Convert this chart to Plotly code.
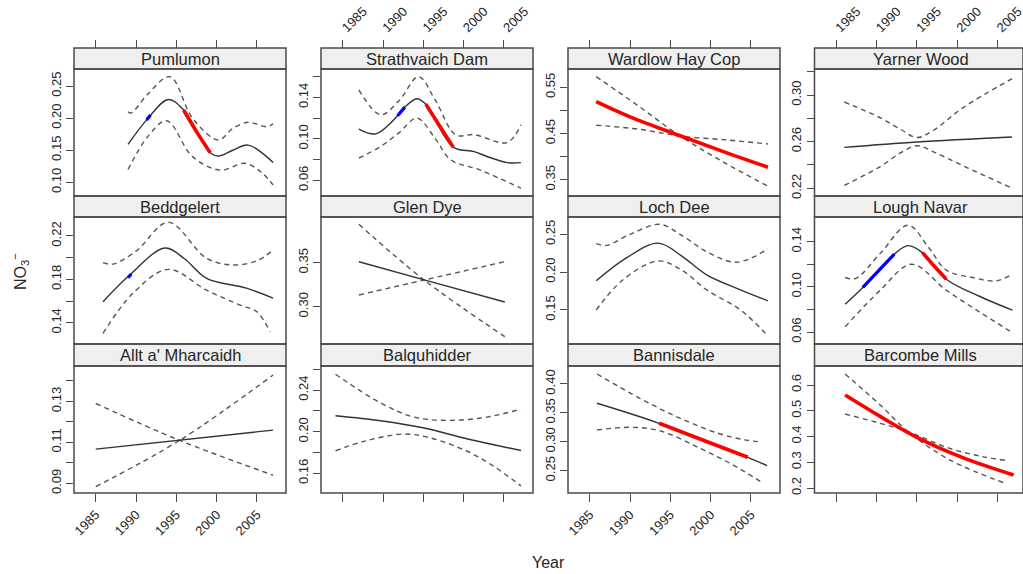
import plotly.graph_objects as go

# ---------------- data ----------------
sites = ["Pumlumon", "Strathvaich Dam", "Wardlow Hay Cop", "Yarner Wood",
         "Beddgelert", "Glen Dye", "Loch Dee", "Lough Navar",
         "Allt a' Mharcaidh", "Balquhidder", "Bannisdale", "Barcombe Mills"]
year_ticks = [1985, 1990, 1995, 2000, 2005]
year_labels = ["1985", "1990", "1995", "2000", "2005"]

# Pumlumon
pum_fit_year = [1989.0, 1991.5, 1994.0, 1995.9, 1999.2, 2000.2, 2002.0, 2003.9, 2007.0]
pum_fit_no3 = [0.159, 0.200, 0.229, 0.2126, 0.146, 0.141, 0.150, 0.158, 0.131]
pum_up_year = [1989.0, 1989.4, 1991.5, 1994.2, 1997.0, 2000.2, 2002.0, 2003.9, 2006.2, 2007.0]
pum_up_no3 = [0.210, 0.208, 0.238, 0.2645, 0.200, 0.166, 0.184, 0.1935, 0.1866, 0.191]
pum_lo_year = [1989.0, 1991.5, 1993.8, 1997.0, 2000.4, 2003.5, 2005.5, 2007.0]
pum_lo_no3 = [0.120, 0.172, 0.196, 0.140, 0.119, 0.1296, 0.116, 0.096]
pum_red_year = [1995.9, 1997.5, 1999.2]
pum_red_no3 = [0.2126, 0.179, 0.146]
pum_blue_year = [1991.3, 1991.8]
pum_blue_no3 = [0.197, 0.205]
pum_yticks = [0.10, 0.15, 0.20, 0.25]
pum_ylabels = ["0.10", "0.15", "0.20", "0.25"]

# Strathvaich Dam
str_fit_year = [1987.0, 1989.1, 1991.8, 1992.7, 1994.2, 1995.3, 1998.7, 2001.3, 2002.9, 2005.4, 2007.1]
str_fit_no3 = [0.1094, 0.1048, 0.1222, 0.1306, 0.1387, 0.1335, 0.092, 0.0877, 0.0829, 0.077, 0.077]
str_up_year = [1987.0, 1989.7, 1992.0, 1994.4, 1996.5, 1999.0, 2001.3, 2005.4, 2007.1]
str_up_no3 = [0.1473, 0.1232, 0.137, 0.160, 0.137, 0.1039, 0.104, 0.0964, 0.1135]
str_lo_year = [1987.0, 1989.7, 1992.0, 1994.2, 1996.5, 1998.4, 2002.0, 2007.1]
str_lo_no3 = [0.0814, 0.0926, 0.106, 0.120, 0.100, 0.0797, 0.070, 0.0523]
str_red_year = [1995.3, 1997.0, 1998.7]
str_red_no3 = [0.1335, 0.1126, 0.092]
str_blue_year = [1991.8, 1992.7]
str_blue_no3 = [0.1222, 0.1306]
str_yticks = [0.06, 0.08, 0.10, 0.12, 0.14, 0.16]
str_ylabels = ["0.06", "", "0.10", "", "0.14", ""]

# Wardlow Hay Cop
war_fit_year = [1985.8, 1990.0, 1996.2, 2002.0, 2007.1]
war_fit_no3 = [0.519, 0.486, 0.445, 0.408, 0.377]
war_b1_year = [1985.8, 1991.0, 1996.0, 2001.5, 2007.1]
war_b1_no3 = [0.573, 0.510, 0.447, 0.389, 0.336]
war_b2_year = [1985.8, 1991.2, 1996.2, 2002.0, 2007.1]
war_b2_no3 = [0.468, 0.459, 0.4446, 0.436, 0.4273]
war_yticks = [0.35, 0.40, 0.45, 0.50, 0.55]
war_ylabels = ["0.35", "", "0.45", "", "0.55"]

# Yarner Wood
yar_fit_year = [1986.0, 1995.0, 2006.8]
yar_fit_no3 = [0.2551, 0.2597, 0.264]
yar_up_year = [1986.0, 1990.5, 1993.0, 1995.0, 1997.0, 2000.7, 2006.8]
yar_up_no3 = [0.294, 0.2803, 0.2705, 0.2635, 0.2695, 0.289, 0.314]
yar_lo_year = [1986.0, 1990.5, 1993.0, 1995.0, 1997.0, 2000.7, 2006.8]
yar_lo_no3 = [0.2225, 0.2388, 0.2505, 0.2565, 0.2515, 0.2394, 0.2202]
yar_yticks = [0.22, 0.24, 0.26, 0.28, 0.30, 0.32]
yar_ylabels = ["0.22", "", "0.26", "", "0.30", ""]

# Beddgelert
bed_fit_year = [1985.9, 1989.2, 1993.6, 1996.0, 1998.75, 2003.7, 2007.0]
bed_fit_no3 = [0.1594, 0.184, 0.2089, 0.199, 0.181, 0.1719, 0.1627]
bed_up_year = [1985.9, 1987.1, 1990.0, 1994.0, 1998.75, 2002.0, 2005.0, 2007.0]
bed_up_no3 = [0.1954, 0.194, 0.206, 0.2326, 0.1994, 0.1933, 0.1972, 0.207]
bed_lo_year = [1985.9, 1989.6, 1994.0, 1998.75, 2002.9, 2005.0, 2006.6]
bed_lo_no3 = [0.1302, 0.1671, 0.1892, 0.170, 0.1563, 0.1501, 0.1317]
bed_blue_year = [1989.0, 1989.4]
bed_blue_no3 = [0.1815, 0.185]
bed_yticks = [0.14, 0.16, 0.18, 0.20, 0.22]
bed_ylabels = ["0.14", "", "0.18", "", "0.22"]

# Glen Dye
gle_fit_year = [1987.0, 1995.1, 2005.1]
gle_fit_no3 = [0.3511, 0.3305, 0.3053]
gle_b1_year = [1987.0, 1995.1, 2005.1]
gle_b1_no3 = [0.3936, 0.3303, 0.2659]
gle_b2_year = [1987.0, 1995.1, 2005.1]
gle_b2_no3 = [0.3133, 0.3303, 0.3511]
gle_yticks = [0.30, 0.35]
gle_ylabels = ["0.30", "0.35"]

# Loch Dee
loc_fit_year = [1985.8, 1989.5, 1993.5, 1996.5, 1999.5, 2003.7, 2007.1]
loc_fit_no3 = [0.1885, 0.2185, 0.2384, 0.2206, 0.1964, 0.1765, 0.162]
loc_up_year = [1985.8, 1987.1, 1990.0, 1993.7, 1996.5, 1999.5, 2003.2, 2007.1]
loc_up_no3 = [0.2376, 0.2354, 0.250, 0.2632, 0.248, 0.227, 0.2131, 0.2307]
loc_lo_year = [1985.8, 1989.1, 1993.5, 1996.5, 1999.5, 2003.7, 2007.1]
loc_lo_no3 = [0.150, 0.1897, 0.2148, 0.202, 0.1765, 0.150, 0.1156]
loc_yticks = [0.15, 0.20, 0.25]
loc_ylabels = ["0.15", "0.20", "0.25"]

# Lough Navar
lou_fit_year = [1986.1, 1988.3, 1992.2, 1993.9, 1995.7, 1998.65, 2002.75, 2006.85]
lou_fit_no3 = [0.0847, 0.0995, 0.129, 0.1365, 0.1303, 0.1068, 0.0917, 0.0794]
lou_up_year = [1986.1, 1987.4, 1990.5, 1993.9, 1996.5, 1998.65, 2001.9, 2004.8, 2006.85]
lou_up_no3 = [0.1083, 0.1074, 0.130, 0.1546, 0.1345, 0.1148, 0.1083, 0.1053, 0.1112]
lou_lo_year = [1986.1, 1990.45, 1994.35, 1998.65, 2002.75, 2006.85]
lou_lo_no3 = [0.0647, 0.097, 0.120, 0.097, 0.0779, 0.0594]
lou_blue_year = [1988.3, 1990.2, 1992.2]
lou_blue_no3 = [0.0995, 0.114, 0.129]
lou_red_year = [1995.7, 1997.2, 1998.65]
lou_red_no3 = [0.1303, 0.118, 0.1068]
lou_yticks = [0.06, 0.08, 0.10, 0.12, 0.14]
lou_ylabels = ["0.06", "", "0.10", "", "0.14"]

# Allt a' Mharcaidh
all_fit_year = [1985.0, 2007.0]
all_fit_no3 = [0.1067, 0.116]
all_b1_year = [1985.0, 1995.4, 2007.0]
all_b1_no3 = [0.129, 0.111, 0.094]
all_b2_year = [1985.0, 1995.4, 2007.0]
all_b2_no3 = [0.0884, 0.111, 0.1429]
all_yticks = [0.09, 0.10, 0.11, 0.12, 0.13, 0.14]
all_ylabels = ["0.09", "", "0.11", "", "0.13", ""]

# Balquhidder
bal_fit_year = [1984.1, 1989.7, 1995.1, 2000.5, 2007.1]
bal_fit_no3 = [0.2154, 0.2106, 0.2036, 0.193, 0.182]
bal_up_year = [1984.1, 1989.7, 1993.8, 1998.0, 2002.9, 2007.1]
bal_up_no3 = [0.2553, 0.2276, 0.2141, 0.2109, 0.2141, 0.2217]
bal_lo_year = [1984.1, 1987.6, 1992.6, 1995.9, 2000.5, 2003.8, 2007.1]
bal_lo_no3 = [0.1817, 0.1907, 0.1978, 0.194, 0.181, 0.1664, 0.148]
bal_yticks = [0.16, 0.18, 0.20, 0.22, 0.24, 0.26]
bal_ylabels = ["0.16", "", "0.20", "", "0.24", ""]

# Bannisdale
ban_fit_year = [1985.9, 1993.6, 2004.6, 2007.0]
ban_fit_no3 = [0.3666, 0.332, 0.2732, 0.2587]
ban_up_year = [1985.9, 1991.2, 1996.2, 2001.2, 2004.4, 2006.1]
ban_up_no3 = [0.4173, 0.3753, 0.3407, 0.3135, 0.3029, 0.300]
ban_lo_year = [1985.9, 1990.0, 1993.7, 1998.7, 2002.8, 2006.55]
ban_lo_no3 = [0.3204, 0.325, 0.319, 0.2886, 0.2597, 0.2281]
ban_red_year = [1993.6, 1999.0, 2004.6]
ban_red_no3 = [0.332, 0.303, 0.2732]
ban_yticks = [0.25, 0.30, 0.35, 0.40]
ban_ylabels = ["0.25", "0.30", "0.35", "0.40"]

# Barcombe Mills
bar_fit_year = [1986.1, 1990.45, 1995.0, 2000.7, 2007.0]
bar_fit_no3 = [0.5612, 0.478, 0.397, 0.318, 0.2505]
bar_b1_year = [1986.1, 1990.45, 1993.9, 1999.0, 2006.2]
bar_b1_no3 = [0.6427, 0.5223, 0.4194, 0.3103, 0.2155]
bar_b2_year = [1986.1, 1990.45, 1993.9, 1999.0, 2003.1, 2006.2]
bar_b2_no3 = [0.4874, 0.4512, 0.419, 0.3546, 0.3222, 0.3066]
bar_yticks = [0.2, 0.3, 0.4, 0.5, 0.6]
bar_ylabels = ["0.2", "0.3", "0.4", "0.5", "0.6"]

# ---------------- assemble panels ----------------
panels = [
    dict(fit=(pum_fit_year, pum_fit_no3), fit_color="dark",
         bands=[(pum_up_year, pum_up_no3), (pum_lo_year, pum_lo_no3)],
         hl=[("red", pum_red_year, pum_red_no3), ("blue", pum_blue_year, pum_blue_no3)],
         yt=pum_yticks, yl=pum_ylabels, yr=[0.0787, 0.2765]),
    dict(fit=(str_fit_year, str_fit_no3), fit_color="dark",
         bands=[(str_up_year, str_up_no3), (str_lo_year, str_lo_no3)],
         hl=[("red", str_red_year, str_red_no3), ("blue", str_blue_year, str_blue_no3)],
         yt=str_yticks, yl=str_ylabels, yr=[0.0448, 0.1674]),
    dict(fit=(war_fit_year, war_fit_no3), fit_color="red",
         bands=[(war_b1_year, war_b1_no3), (war_b2_year, war_b2_no3)],
         hl=[], yt=war_yticks, yl=war_ylabels, yr=[0.3147, 0.5896]),
    dict(fit=(yar_fit_year, yar_fit_no3), fit_color="dark",
         bands=[(yar_up_year, yar_up_no3), (yar_lo_year, yar_lo_no3)],
         hl=[], yt=yar_yticks, yl=yar_ylabels, yr=[0.2134, 0.3223]),
    dict(fit=(bed_fit_year, bed_fit_no3), fit_color="dark",
         bands=[(bed_up_year, bed_up_no3), (bed_lo_year, bed_lo_no3)],
         hl=[("blue", bed_blue_year, bed_blue_no3)],
         yt=bed_yticks, yl=bed_ylabels, yr=[0.1204, 0.2375]),
    dict(fit=(gle_fit_year, gle_fit_no3), fit_color="dark",
         bands=[(gle_b1_year, gle_b1_no3), (gle_b2_year, gle_b2_no3)],
         hl=[], yt=gle_yticks, yl=gle_ylabels, yr=[0.2576, 0.4019]),
    dict(fit=(loc_fit_year, loc_fit_no3), fit_color="dark",
         bands=[(loc_up_year, loc_up_no3), (loc_lo_year, loc_lo_no3)],
         hl=[], yt=loc_yticks, yl=loc_ylabels, yr=[0.105, 0.2729]),
    dict(fit=(lou_fit_year, lou_fit_no3), fit_color="dark",
         bands=[(lou_up_year, lou_up_no3), (lou_lo_year, lou_lo_no3)],
         hl=[("blue", lou_blue_year, lou_blue_no3), ("red", lou_red_year, lou_red_no3)],
         yt=lou_yticks, yl=lou_ylabels, yr=[0.0494, 0.1619]),
    dict(fit=(all_fit_year, all_fit_no3), fit_color="dark",
         bands=[(all_b1_year, all_b1_no3), (all_b2_year, all_b2_no3)],
         hl=[], yt=all_yticks, yl=all_ylabels, yr=[0.0853, 0.1473]),
    dict(fit=(bal_fit_year, bal_fit_no3), fit_color="dark",
         bands=[(bal_up_year, bal_up_no3), (bal_lo_year, bal_lo_no3)],
         hl=[], yt=bal_yticks, yl=bal_ylabels, yr=[0.1411, 0.2632]),
    dict(fit=(ban_fit_year, ban_fit_no3), fit_color="dark",
         bands=[(ban_up_year, ban_up_no3), (ban_lo_year, ban_lo_no3)],
         hl=[("red", ban_red_year, ban_red_no3)],
         yt=ban_yticks, yl=ban_ylabels, yr=[0.2114, 0.4311]),
    dict(fit=(bar_fit_year, bar_fit_no3), fit_color="red",
         bands=[(bar_b1_year, bar_b1_no3), (bar_b2_year, bar_b2_no3)],
         hl=[], yt=bar_yticks, yl=bar_ylabels, yr=[0.1806, 0.6738]),
]

# ---------------- layout geometry (pixels) ----------------
W, H = 1023, 574
col_px = [(74, 286), (321, 533), (568, 780), (814.5, 1023)]
row_px = [(69, 196), (217, 344), (366, 493)]
strip_px = [(48, 69), (196, 217), (344, 366)]
x_start = 1982.3
px_per_year = 212 / 26.3

FONT = "Liberation Sans, Arial, Helvetica, sans-serif"
FRAME = "#4a4a4a"
TXT = "#262626"
COLORS = {"dark": "#333333", "red": "#ff0000", "blue": "#0000ff"}
WIDTHS = {"dark": 1.4, "red": 3.6, "blue": 3.2}

def px_x(v):
    return v / W

def px_y(v):
    return 1 - v / H

fig = go.Figure()
layout = dict(width=W, height=H, autosize=False, margin=dict(l=0, r=0, t=0, b=0, pad=0),
              paper_bgcolor="white", plot_bgcolor="white", showlegend=False,
              font=dict(family=FONT, color=TXT))
shapes = []
annotations = []

for i, p in enumerate(panels):
    r, c = divmod(i, 4)
    sfx = "" if i == 0 else str(i + 1)
    xa, ya = "x" + sfx, "y" + sfx
    x0, x1 = col_px[c]
    y0, y1 = row_px[r]
    s0, s1 = strip_px[r]

    for bx, by in p["bands"]:
        fig.add_trace(go.Scatter(x=bx, y=by, mode="lines", xaxis=xa, yaxis=ya,
                                 line=dict(color="#555555", width=1.4, dash="5px,4px", shape="spline"),
                                 hoverinfo="skip"))
    fx, fy = p["fit"]
    fig.add_trace(go.Scatter(x=fx, y=fy, mode="lines", xaxis=xa, yaxis=ya,
                             line=dict(color=COLORS[p["fit_color"]], width=WIDTHS[p["fit_color"]], shape="spline"),
                             hoverinfo="skip"))
    for col, hx, hy in p["hl"]:
        fig.add_trace(go.Scatter(x=hx, y=hy, mode="lines", xaxis=xa, yaxis=ya,
                                 line=dict(color=COLORS[col], width=WIDTHS[col], shape="spline"),
                                 hoverinfo="skip"))

    xr = [x_start, x_start + (x1 - x0) / px_per_year]
    xaxis = dict(domain=[px_x(x0), px_x(x1)], range=xr, showgrid=False, zeroline=False,
                 showline=False, tickvals=year_ticks, ticktext=year_labels, tickangle=-45,
                 ticklen=8, tickcolor=FRAME, tickwidth=1.2, automargin=False,
                 ticklabeloverflow="allow",
                 tickfont=dict(size=13, color=TXT, family=FONT), fixedrange=True)
    if r == 0:
        xaxis.update(anchor="free", position=px_y(s0), side="top", ticks="outside",
                     showticklabels=(c in (1, 3)))
    elif r == 1:
        xaxis.update(anchor=ya, ticks="", showticklabels=False)
    else:
        xaxis.update(anchor=ya, side="bottom", ticks="outside", showticklabels=(c in (0, 2)))
    layout["xaxis" + sfx] = xaxis

    major_v = [v for v, t in zip(p["yt"], p["yl"]) if t]
    major_t = [t for t in p["yl"] if t]
    minor_v = [v for v, t in zip(p["yt"], p["yl"]) if not t]
    yaxis = dict(domain=[px_y(y1), px_y(y0)], range=p["yr"], anchor=xa,
                 showgrid=False, zeroline=False, showline=False,
                 tickvals=major_v, ticktext=major_t, tickangle=-90,
                 ticks="outside", ticklen=7, tickcolor=FRAME, tickwidth=1.2,
                 automargin=False, ticklabeloverflow="allow",
                 tickfont=dict(size=13, color=TXT, family=FONT), fixedrange=True)
    if minor_v:
        yaxis["minor"] = dict(tickvals=minor_v, ticks="outside", ticklen=7,
                              tickcolor=FRAME, tickwidth=1.2, showgrid=False)
    layout["yaxis" + sfx] = yaxis

    shapes.append(dict(type="rect", xref="paper", yref="paper",
                       x0=px_x(x0), x1=px_x(x1), y0=px_y(s1), y1=px_y(s0),
                       fillcolor="#efefef", line=dict(color=FRAME, width=1.5), layer="below"))
    shapes.append(dict(type="rect", xref="paper", yref="paper",
                       x0=px_x(x0), x1=px_x(x1), y0=px_y(y1), y1=px_y(y0),
                       fillcolor="rgba(0,0,0,0)", line=dict(color=FRAME, width=1.5), layer="above"))
    annotations.append(dict(text=sites[i], xref="paper", yref="paper",
                            x=px_x((x0 + x1) / 2 if c < 3 else (x0 + 1026.6) / 2),
                            y=px_y((s0 + s1) / 2), showarrow=False,
                            xanchor="center", yanchor="middle",
                            font=dict(size=16.5, color=TXT, family=FONT)))

annotations.append(dict(text="NO<sub>3</sub><sup>\u2212</sup>", xref="paper", yref="paper",
                        x=px_x(20), y=px_y(272), showarrow=False, textangle=-90,
                        xanchor="center", yanchor="middle",
                        font=dict(size=16, color=TXT, family=FONT)))
annotations.append(dict(text="Year", xref="paper", yref="paper",
                        x=px_x(548), y=px_y(562), showarrow=False,
                        xanchor="center", yanchor="middle",
                        font=dict(size=16, color=TXT, family=FONT)))

layout["shapes"] = shapes
layout["annotations"] = annotations
fig.update_layout(**layout)
fig.write_html("out.html", config={"responsive": False, "displayModeBar": False},
               post_script="document.body.style.margin='0px';document.body.style.overflow='hidden';")
